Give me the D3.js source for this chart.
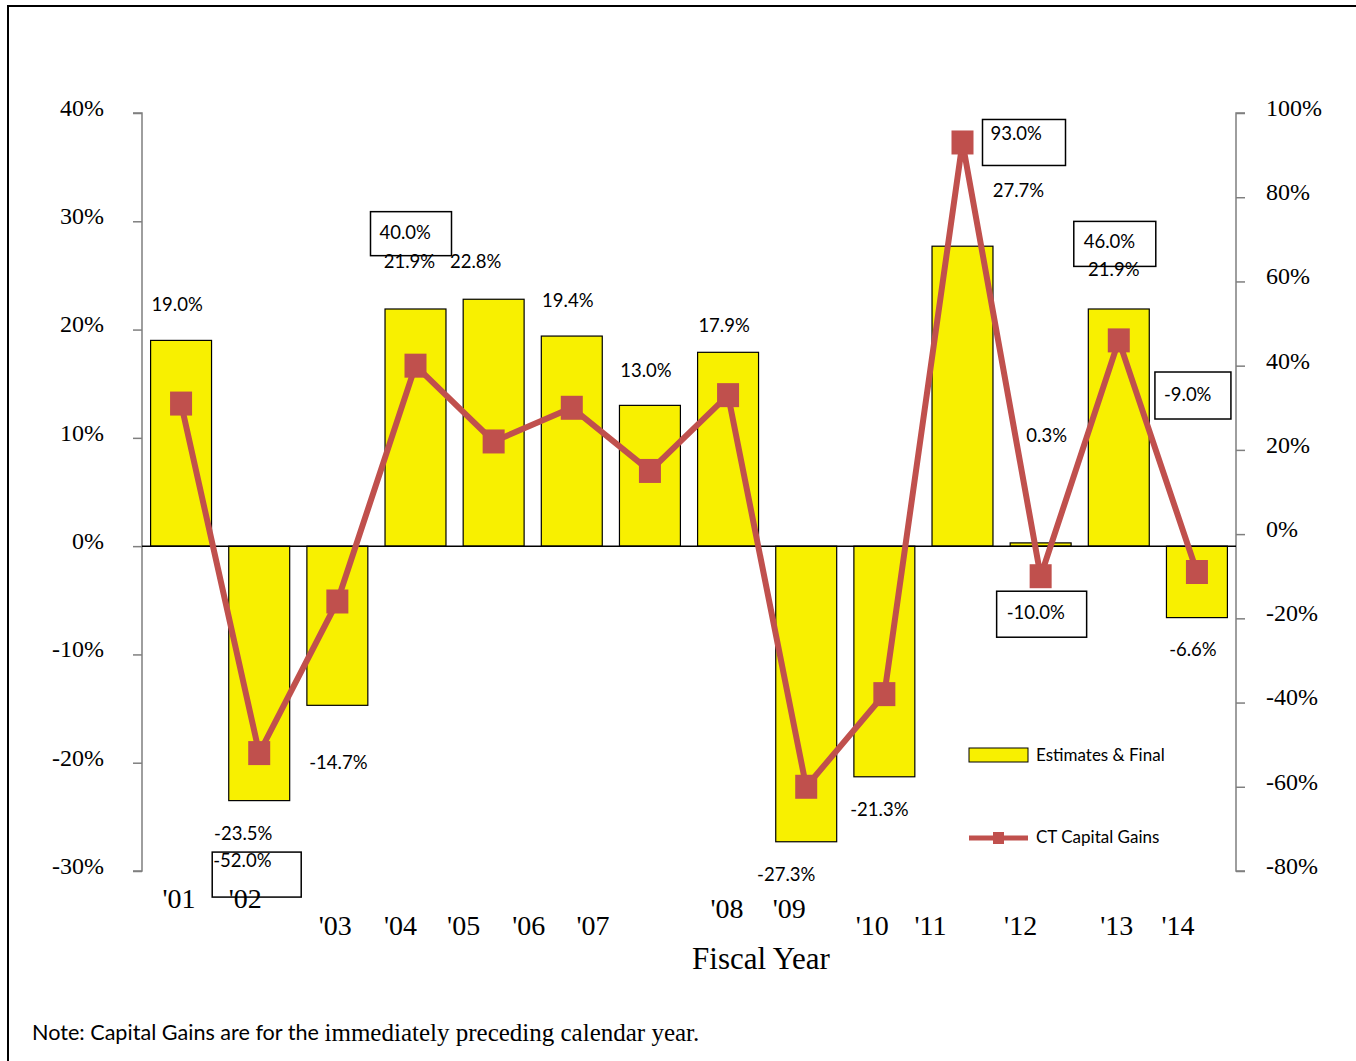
<!DOCTYPE html>
<html>
<head>
<meta charset="utf-8">
<script src="https://cdn.jsdelivr.net/npm/d3@7/dist/d3.min.js"></script>
<style>
  html, body { margin: 0; padding: 0; background: #fff; }
  svg { display: block; }
</style>
</head>
<body>
<svg id="chart" width="1356" height="1061"></svg>
<script>
// Fiscal years
const years = ["'01","'02","'03","'04","'05","'06","'07","'08","'09","'10","'11","'12","'13","'14"];
// Estimates & Final (left axis, %)
const estimates = [19.0, -23.5, -14.7, 21.9, 22.8, 19.4, 13.0, 17.9, -27.3, -21.3, 27.7, 0.3, 21.9, -6.6];
// CT Capital Gains (right axis, %)
const capGains = [31, -52, -16, 40, 22, 30, 15, 33, -60, -38, 93, -10, 46, -9];
// Axis ticks
const leftTicks = [-30, -20, -10, 0, 10, 20, 30, 40];
const rightTicks = [-80, -60, -40, -20, 0, 20, 40, 60, 80, 100];
// Capital gains values shown in boxed labels
const boxedYears = ["'02","'04","'11","'12","'13","'14"];

// Label placement (offsets from the mark they describe)
const barLabelOffset = [[-4,-36],[-16,32],[1,57],[-6,-48],[-18,-38],[-4,-36],[-4,-35],[-4,-27],[-20,32],[-5,32],[56,-56],[6,-108],[-5,-40],[-4,31]];
const yearLabelOffset = [[-2,352],[-14,352],[-2,379],[-15,379],[-30,379],[-43,379],[-57,379],[-1,362],[-17,362],[-12,379],[-32,379],[-20,379],[-2,379],[-19,379]];
const boxLayout = {
  "'02": {bx:-47, by:99,  bw:89, bh:45, tx:1,  ty:8},
  "'04": {bx:-45, by:-154, bw:81, bh:44, tx:9,  ty:20},
  "'11": {bx:20,  by:-23, bw:83, bh:46, tx:8,  ty:14},
  "'12": {bx:-44, by:15,  bw:90, bh:46, tx:10, ty:21},
  "'13": {bx:-45, by:-119, bw:82, bh:45, tx:10, ty:20},
  "'14": {bx:-42, by:-200, bw:76, bh:47, tx:9,  ty:22}
};

const svg = d3.select("#chart");
const serif = "'Liberation Serif', 'DejaVu Serif', serif";
const sans = "Lato, 'Open Sans', 'Liberation Sans', sans-serif";
const labelSize = 18.5;

// outer frame
svg.append("rect").attr("x", 8).attr("y", 6).attr("width", 1400).attr("height", 1100)
  .attr("fill", "none").attr("stroke", "#000").attr("stroke-width", 2);

const plot = {left: 142, right: 1236, top: 113, bottom: 871};

const x = d3.scaleBand().domain(years).range([plot.left, plot.right])
  .paddingInner(0.22).paddingOuter(0.11);
const yL = d3.scaleLinear().domain([-30, 40]).range([plot.bottom, plot.top]);
const yR = d3.scaleLinear().domain([-80, 100]).range([plot.bottom, plot.top]);

// left axis
const axL = svg.append("g").attr("transform", `translate(${plot.left},0)`)
  .call(d3.axisLeft(yL).tickValues(leftTicks).tickSize(9).tickPadding(29).tickFormat(d => d + "%"));
axL.selectAll("path, line").attr("stroke", "#7f7f7f").attr("stroke-width", 1.5);
axL.select(".domain").attr("d", `M-9,${plot.top}H0V${plot.bottom}H-9`);
axL.selectAll("text").attr("font-family", serif).attr("font-size", 24).attr("fill", "#000").attr("dy", "0.1em");

// right axis
const axR = svg.append("g").attr("transform", `translate(${plot.right},0)`)
  .call(d3.axisRight(yR).tickValues(rightTicks).tickSize(9).tickPadding(21).tickFormat(d => d + "%"));
axR.selectAll("path, line").attr("stroke", "#7f7f7f").attr("stroke-width", 1.5);
axR.select(".domain").attr("d", `M9,${plot.top}H0V${plot.bottom}H9`);
axR.selectAll("text").attr("font-family", serif).attr("font-size", 24).attr("fill", "#000").attr("dy", "0.1em");

// bars
svg.append("g").selectAll("rect").data(estimates).join("rect")
  .attr("x", (d, i) => x(years[i]))
  .attr("width", x.bandwidth())
  .attr("y", d => yL(Math.max(0, d)))
  .attr("height", d => Math.abs(yL(d) - yL(0)))
  .attr("fill", "#F8F000").attr("stroke", "#000").attr("stroke-width", 1.2);

// zero line
svg.append("line").attr("x1", plot.left).attr("x2", plot.right)
  .attr("y1", yL(0)).attr("y2", yL(0)).attr("stroke", "#000").attr("stroke-width", 1.5);

// bar value labels
svg.append("g").selectAll("text").data(estimates).join("text")
  .attr("x", (d, i) => x(years[i]) + x.bandwidth() / 2 + barLabelOffset[i][0])
  .attr("y", (d, i) => yL(d) + barLabelOffset[i][1])
  .attr("text-anchor", "middle").attr("dominant-baseline", "central")
  .attr("font-family", sans).attr("font-size", labelSize).attr("fill", "#000")
  .text(d => d.toFixed(1) + "%");

// capital gains line
const cx = i => x(years[i]) + x.bandwidth() / 2;
const line = d3.line().x((d, i) => cx(i)).y(d => yR(d));
svg.append("path").datum(capGains).attr("d", line)
  .attr("fill", "none").attr("stroke", "#C0504D").attr("stroke-width", 6).attr("stroke-linejoin", "miter");
svg.append("g").selectAll("rect").data(capGains).join("rect")
  .attr("x", (d, i) => cx(i) - 11).attr("y", d => yR(d) - 12)
  .attr("width", 22).attr("height", 24).attr("fill", "#C0504D");

// boxed capital gains labels
const boxes = svg.append("g");
years.forEach((yr, i) => {
  if (!boxedYears.includes(yr)) return;
  const L = boxLayout[yr];
  const bx = cx(i) + L.bx, by = yR(capGains[i]) + L.by;
  boxes.append("rect").attr("x", bx).attr("y", by).attr("width", L.bw).attr("height", L.bh)
    .attr("fill", "none").attr("stroke", "#000").attr("stroke-width", 1.5);
  boxes.append("text").attr("x", bx + L.tx).attr("y", by + L.ty)
    .attr("dominant-baseline", "central")
    .attr("font-family", sans).attr("font-size", labelSize).attr("fill", "#000")
    .text(capGains[i].toFixed(1) + "%");
});

// year labels
svg.append("g").selectAll("text").data(years).join("text")
  .attr("x", (d, i) => cx(i) + yearLabelOffset[i][0])
  .attr("y", (d, i) => yL(0) + yearLabelOffset[i][1])
  .attr("text-anchor", "middle").attr("dominant-baseline", "central")
  .attr("font-family", serif).attr("font-size", 28).attr("fill", "#000")
  .text(d => d);

// axis title
svg.append("text").attr("x", 761).attr("y", 958).attr("text-anchor", "middle")
  .attr("dominant-baseline", "central").attr("font-family", serif).attr("font-size", 31)
  .text("Fiscal Year");

// legend
const lg = svg.append("g").attr("transform", "translate(969,0)");
lg.append("rect").attr("x", 0).attr("y", 748).attr("width", 59).attr("height", 14)
  .attr("fill", "#F8F000").attr("stroke", "#000").attr("stroke-width", 1);
lg.append("text").attr("x", 67).attr("y", 754).attr("dominant-baseline", "central")
  .attr("font-family", sans).attr("font-size", 17).text("Estimates & Final");
lg.append("line").attr("x1", 0).attr("x2", 59).attr("y1", 838).attr("y2", 838)
  .attr("stroke", "#C0504D").attr("stroke-width", 5);
lg.append("rect").attr("x", 24).attr("y", 832).attr("width", 11).attr("height", 12).attr("fill", "#C0504D");
lg.append("text").attr("x", 67).attr("y", 836).attr("dominant-baseline", "central")
  .attr("font-family", sans).attr("font-size", 17).text("CT Capital Gains");

// footnote: sans lead-in, serif remainder
const note = svg.append("text").attr("x", 32).attr("y", 1032).attr("dominant-baseline", "central");
note.append("tspan").attr("font-family", sans).attr("font-size", 21.6).text("Note: Capital Gains are for the ");
note.append("tspan").attr("font-family", serif).attr("font-size", 25).text("immediately preceding calendar year.");
</script>
</body>
</html>
